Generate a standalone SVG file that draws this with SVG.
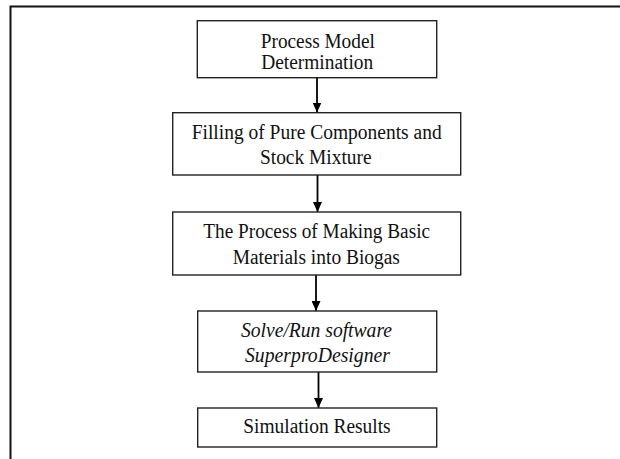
<svg xmlns="http://www.w3.org/2000/svg" width="620" height="459" viewBox="0 0 620 459">
<style>
.box{fill:#fff;stroke:#222;stroke-width:1.4}
.t{font-family:"Liberation Serif","Times New Roman",serif;font-size:20.5px;fill:#111;text-anchor:middle}
.i{font-style:italic}
.c{stroke:#000;stroke-width:1.8;fill:none}
</style>
<defs>
<marker id="ah" markerWidth="10" markerHeight="9" refX="10" refY="4.5" orient="auto" markerUnits="userSpaceOnUse" viewBox="0 0 10 9">
<path d="M0,0 L10,4.5 L0,9 Z" fill="#000"/>
</marker>
</defs>
<path d="M10.5,460 L10.5,6.5 L621,6.5" fill="none" stroke="#111" stroke-width="2"/>
<g id="connectors">
<path class="c" d="M317,78 L317,112.5" marker-end="url(#ah)"/>
<path class="c" d="M317.5,175 L317.5,212" marker-end="url(#ah)"/>
<path class="c" d="M316,275 L316,311" marker-end="url(#ah)"/>
<path class="c" d="M318.5,372 L318.5,408" marker-end="url(#ah)"/>
</g>
<g id="n1">
<rect class="box" x="197.3" y="20.7" width="239.4" height="57"/>
<text class="t" x="317.8" y="47.7" textLength="114" lengthAdjust="spacingAndGlyphs">Process Model</text>
<text class="t" x="317.2" y="69" textLength="112" lengthAdjust="spacingAndGlyphs">Determination</text>
</g>
<g id="n2">
<rect class="box" x="172.7" y="112.7" width="288" height="62.3"/>
<text class="t" x="316.7" y="139.3" textLength="250" lengthAdjust="spacingAndGlyphs">Filling of Pure Components and</text>
<text class="t" x="315.8" y="164" textLength="111.7" lengthAdjust="spacingAndGlyphs">Stock Mixture</text>
</g>
<g id="n3">
<rect class="box" x="172.7" y="212" width="288" height="63"/>
<text class="t" x="316.7" y="238.3" textLength="226.7" lengthAdjust="spacingAndGlyphs">The Process of Making Basic</text>
<text class="t" x="316.3" y="264" textLength="167.3" lengthAdjust="spacingAndGlyphs">Materials into Biogas</text>
</g>
<g id="n4">
<rect class="box" x="197.7" y="311" width="239" height="61"/>
<text class="t i" x="316.5" y="336.7" textLength="151" lengthAdjust="spacingAndGlyphs">Solve/Run software</text>
<text class="t i" x="317.5" y="361.7" textLength="145" lengthAdjust="spacingAndGlyphs">SuperproDesigner</text>
</g>
<g id="n5">
<rect class="box" x="197.7" y="408" width="239" height="39"/>
<text class="t" x="317" y="433.3" textLength="147.4" lengthAdjust="spacingAndGlyphs">Simulation Results</text>
</g>
</svg>
